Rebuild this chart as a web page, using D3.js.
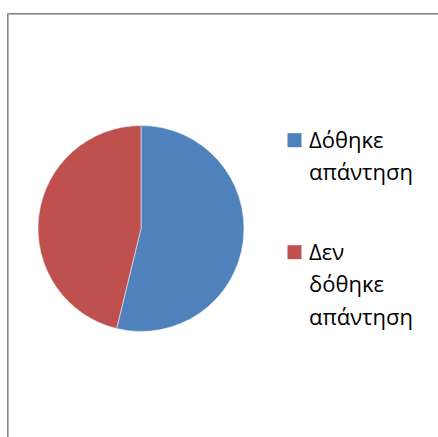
<!DOCTYPE html>
<html>
<head>
<meta charset="utf-8">
<script src="https://cdn.jsdelivr.net/npm/d3@7"></script>
<style>
  html, body { margin: 0; padding: 0; background: #fff; }
  svg { display: block; }
</style>
</head>
<body>
<svg id="chart" width="438" height="437"></svg>
<script>
// Answer shares (percent)
const categories = ["Δόθηκε απάντηση", "Δεν δόθηκε απάντηση"];
const values = [53.8, 46.2];
const colors = ["#4F81BD", "#C0504D"];
// Legend text, already broken into lines
const legendLines = [["Δόθηκε", "απάντηση"], ["Δεν", "δόθηκε", "απάντηση"]];

const svg = d3.select("#chart");
const W = 438, H = 437;

// Chart area frame (top and left edges visible)
const frame = svg.append("g");
frame.append("path").attr("d", `M7.5,${H} V13.5 H${W}`)
  .attr("fill", "none").attr("stroke", "#858585").attr("stroke-width", 1);
frame.append("path").attr("d", `M8.5,${H} V14.5 H${W}`)
  .attr("fill", "none").attr("stroke", "#b4b4b4").attr("stroke-width", 1);

// Pie
const cx = 141, cy = 228.5, r = 103;
const pie = d3.pie().sort(null).value(d => d)(values);
const arc = d3.arc().innerRadius(0).outerRadius(r);
svg.append("g").attr("transform", `translate(${cx},${cy})`)
  .selectAll("path").data(pie).join("path")
  .attr("d", arc)
  .attr("fill", (d, i) => colors[i])
  .attr("stroke", "#e8eef6").attr("stroke-width", 0.6);

// Legend
const legendX = 287.5, textX = 309;
const baseline = [147.5, 259.5];
const lineGap = 32.5;
const legend = svg.append("g");
categories.forEach((c, i) => {
  const g = legend.append("g");
  g.append("rect").attr("x", legendX).attr("y", baseline[i] - 14.3)
    .attr("width", 14).attr("height", 14).attr("fill", colors[i]);
  const t = g.append("text")
    .attr("font-family", "'Open Sans', sans-serif")
    .attr("font-size", 22).attr("fill", "#000");
  legendLines[i].forEach((ln, k) => {
    t.append("tspan").attr("x", textX).attr("y", baseline[i] + k * lineGap).text(ln);
  });
});
</script>
</body>
</html>
